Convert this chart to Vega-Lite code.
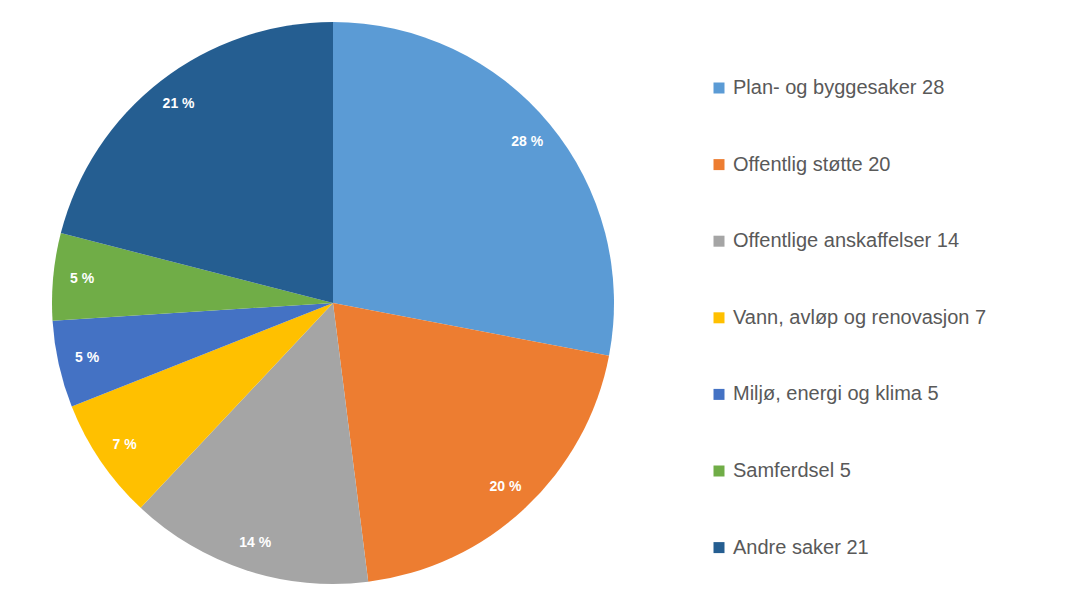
{
  "$schema": "https://vega.github.io/schema/vega-lite/v6.json",
  "width": 666,
  "height": 600,
  "autosize": {"type": "none"},
  "padding": {"left": 0, "top": 3, "right": 410, "bottom": 0},
  "background": "#ffffff",
  "config": {"view": {"stroke": null}},
  "data": {
    "values": [
      {"nr": 1, "kategori": "Plan- og byggesaker 28", "antall": 28, "pct": "28 %"},
      {"nr": 2, "kategori": "Offentlig støtte 20", "antall": 20, "pct": "20 %"},
      {"nr": 3, "kategori": "Offentlige anskaffelser 14", "antall": 14, "pct": "14 %"},
      {"nr": 4, "kategori": "Vann, avløp og renovasjon 7", "antall": 7, "pct": "7 %"},
      {"nr": 5, "kategori": "Miljø, energi og klima 5", "antall": 5, "pct": "5 %"},
      {"nr": 6, "kategori": "Samferdsel 5", "antall": 5, "pct": "5 %"},
      {"nr": 7, "kategori": "Andre saker 21", "antall": 21, "pct": "21 %"}
    ]
  },
  "encoding": {
    "theta": {"field": "antall", "type": "quantitative", "stack": true},
    "order": {"field": "nr", "type": "quantitative"},
    "color": {
      "field": "kategori",
      "type": "nominal",
      "sort": null,
      "scale": {
        "domain": ["Plan- og byggesaker 28", "Offentlig støtte 20", "Offentlige anskaffelser 14", "Vann, avløp og renovasjon 7", "Miljø, energi og klima 5", "Samferdsel 5", "Andre saker 21"],
        "range": ["#5B9BD5", "#ED7D31", "#A5A5A5", "#FFC000", "#4472C4", "#70AD47", "#255E91"]
      },
      "legend": {
        "title": null,
        "orient": "none",
        "legendX": 709,
        "legendY": 75,
        "padding": 0,
        "symbolType": "square",
        "symbolSize": 121,
        "symbolStrokeWidth": 0,
        "labelFont": "Liberation Sans",
        "labelFontSize": 20,
        "labelColor": "#595959",
        "labelOffset": 4,
        "rowPadding": 56.6,
        "labelLimit": 400
      }
    }
  },
  "layer": [
    {"mark": {"type": "arc", "outerRadius": 281}},
    {
      "mark": {"type": "text", "radius": 252, "font": "Liberation Sans", "fontSize": 14, "fontWeight": "bold", "fill": "#ffffff"},
      "encoding": {"text": {"field": "pct", "type": "nominal"}, "color": {"value": "#ffffff"}}
    }
  ]
}
